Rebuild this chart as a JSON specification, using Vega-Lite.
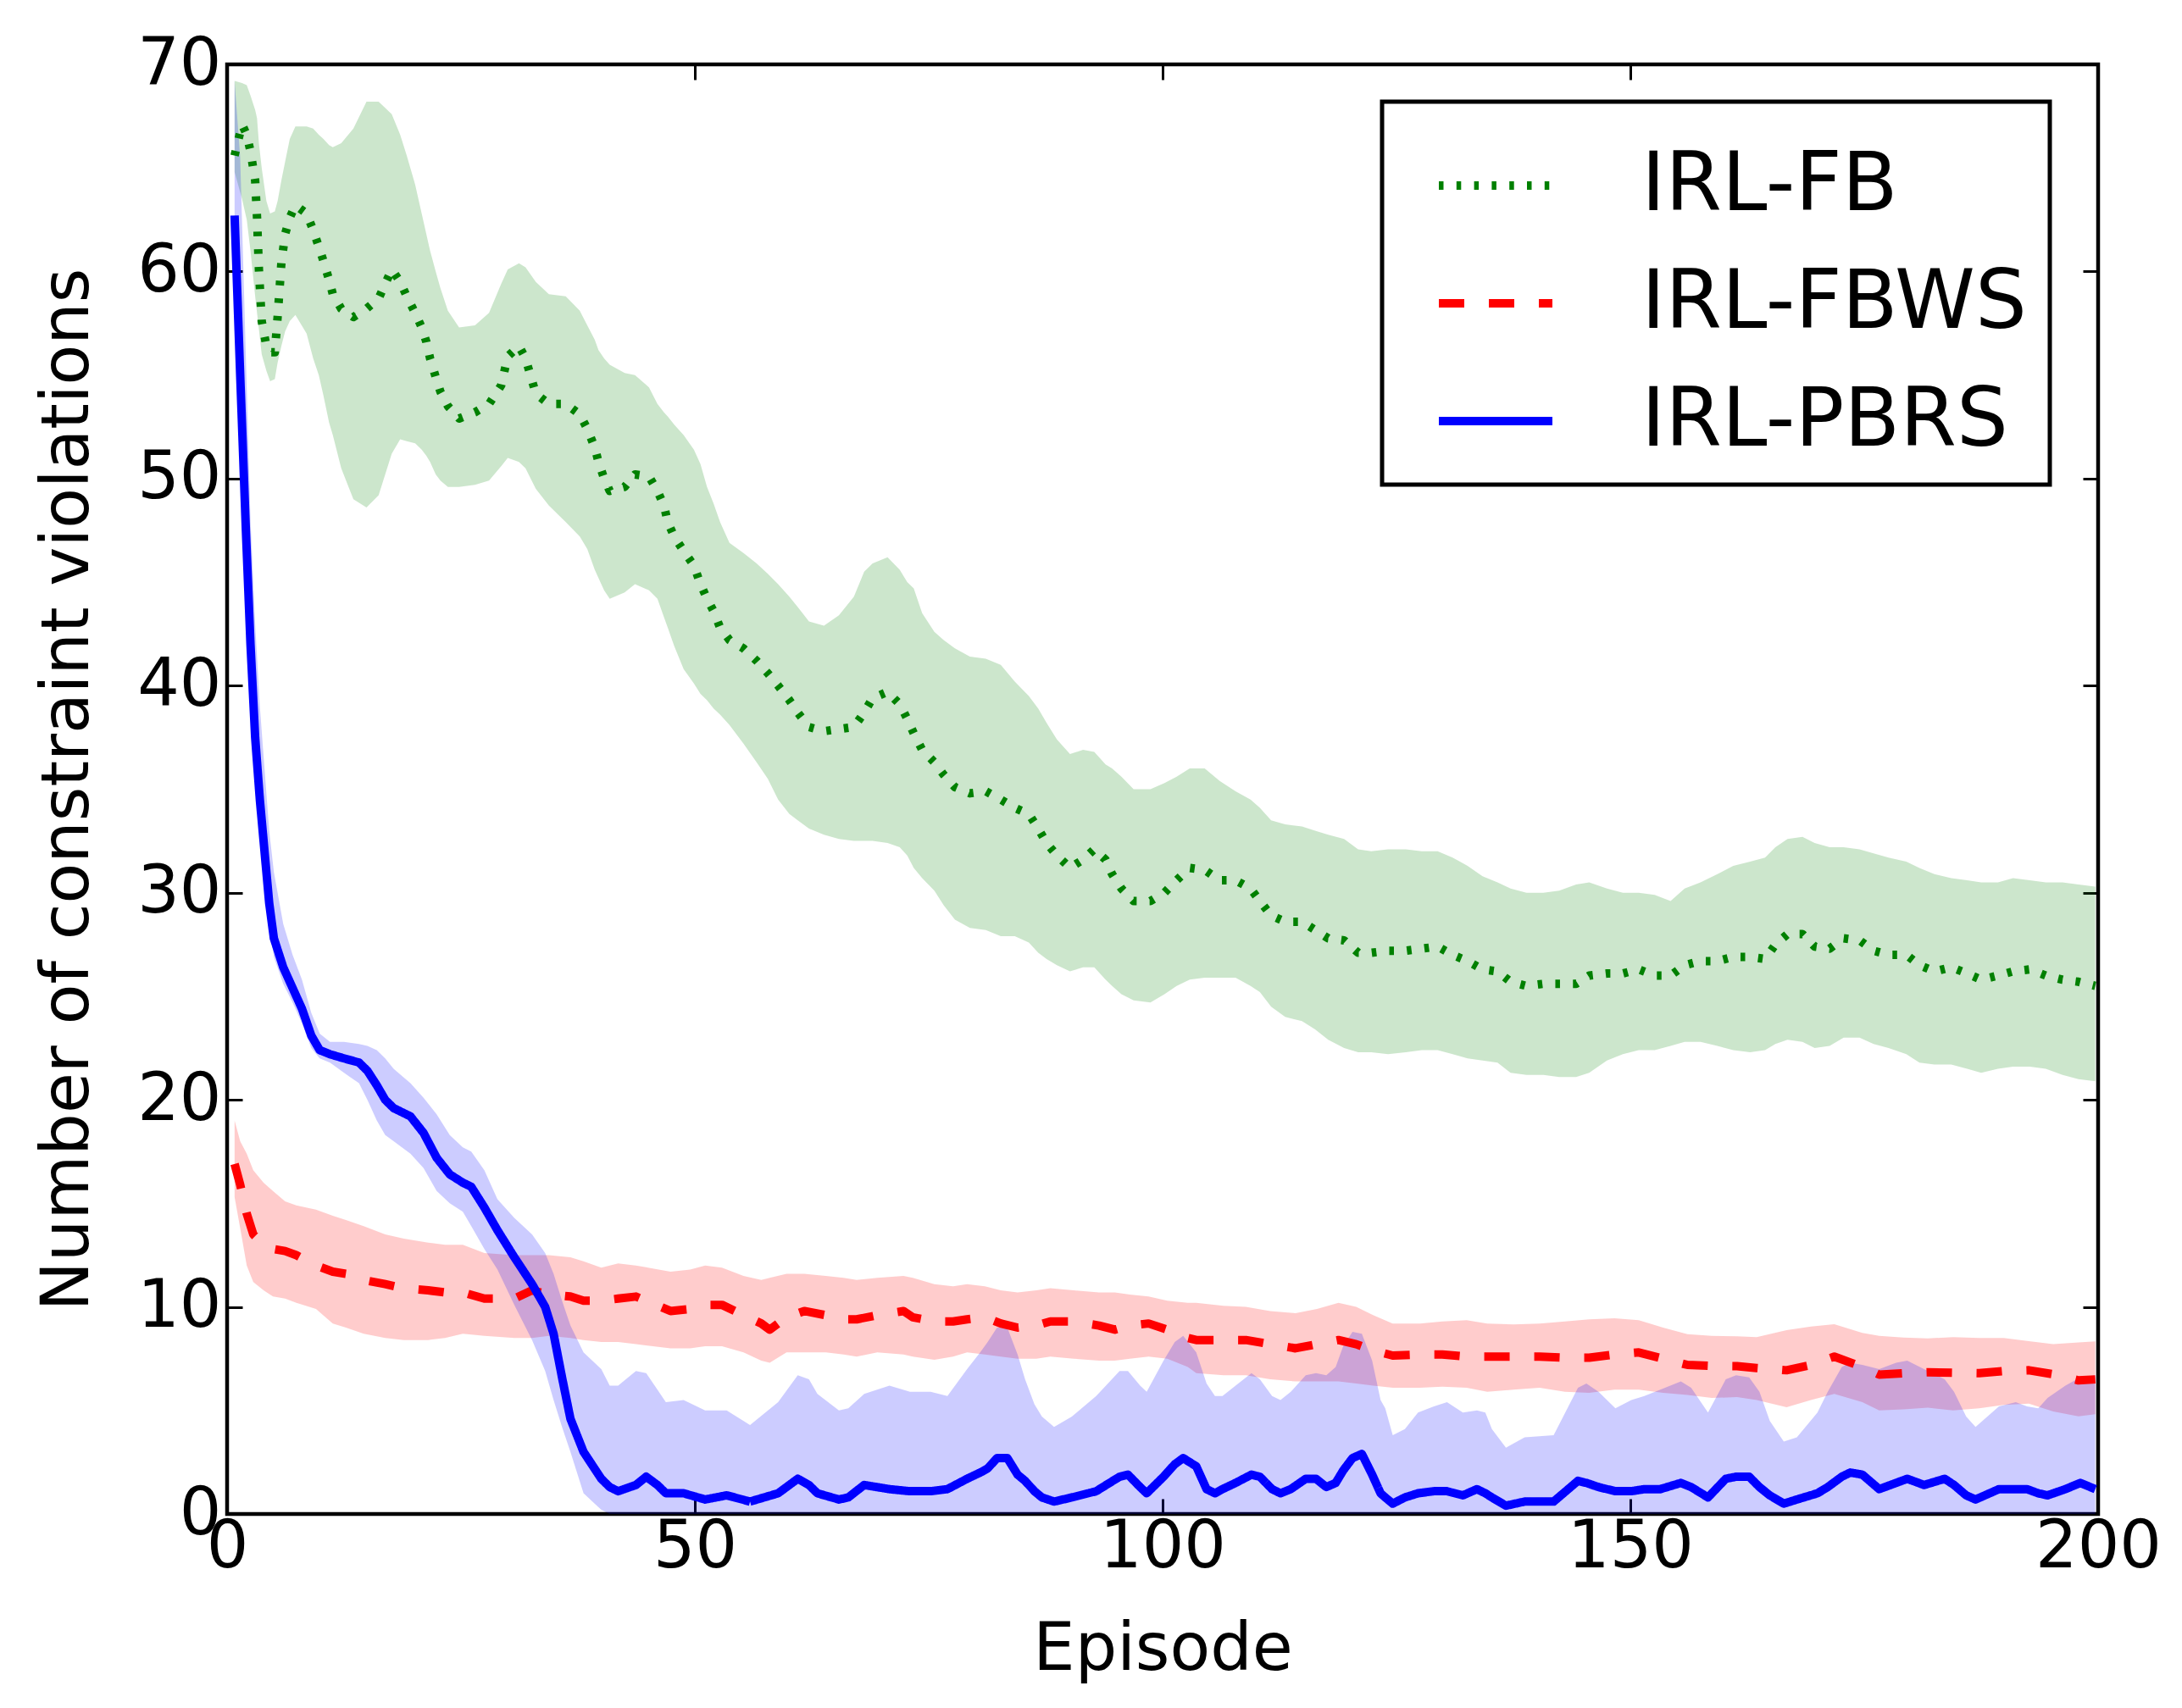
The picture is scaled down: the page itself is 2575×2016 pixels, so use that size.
{
  "$schema": "https://vega.github.io/schema/vega-lite/v6.json",
  "width": 2208,
  "height": 1711,
  "autosize": {"type": "none"},
  "padding": {"left": 268, "top": 76, "right": 99, "bottom": 229},
  "background": "white",
  "config": {
    "font": "DejaVu Sans",
    "view": {"stroke": "black", "strokeWidth": 4.5},
    "axis": {
      "grid": false,
      "domain": false,
      "tickColor": "black",
      "tickWidth": 3,
      "tickSize": -18,
      "labelFont": "DejaVu Sans",
      "labelFontSize": 78,
      "labelColor": "black",
      "titleFont": "DejaVu Sans",
      "titleFontSize": 78,
      "titleFontWeight": "normal",
      "titleColor": "black"
    },
    "legend": {
      "labelFont": "DejaVu Sans",
      "labelFontSize": 96,
      "labelColor": "black",
      "labelOffset": 100,
      "labelLimit": 1000,
      "symbolType": "stroke",
      "symbolSize": 17956,
      "symbolStrokeWidth": 10,
      "symbolOffset": 35,
      "rowPadding": 19,
      "padding": 27,
      "strokeColor": "black",
      "fillColor": "white",
      "cornerRadius": 0
    }
  },
  "data": {
    "values": [
      {"s": "IRL-FB", "ep": 0.8, "m": 65.6, "lo": 64.8, "hi": 69.2},
      {"s": "IRL-FB", "ep": 1.6, "m": 67.1, "lo": 63.5, "hi": 69.1},
      {"s": "IRL-FB", "ep": 2.1, "m": 66.6, "lo": 62.5, "hi": 69.0},
      {"s": "IRL-FB", "ep": 2.5, "m": 65.8, "lo": 61.0, "hi": 68.5},
      {"s": "IRL-FB", "ep": 3.0, "m": 64.4, "lo": 58.8, "hi": 67.8},
      {"s": "IRL-FB", "ep": 3.2, "m": 62.6, "lo": 58.0, "hi": 67.4},
      {"s": "IRL-FB", "ep": 3.4, "m": 60.1, "lo": 57.2, "hi": 66.2},
      {"s": "IRL-FB", "ep": 3.7, "m": 57.6, "lo": 56.0, "hi": 65.0},
      {"s": "IRL-FB", "ep": 4.2, "m": 56.4, "lo": 55.2, "hi": 63.4},
      {"s": "IRL-FB", "ep": 4.6, "m": 56.1, "lo": 54.7, "hi": 62.8},
      {"s": "IRL-FB", "ep": 5.1, "m": 56.1, "lo": 54.8, "hi": 62.9},
      {"s": "IRL-FB", "ep": 5.4, "m": 57.8, "lo": 55.6, "hi": 63.4},
      {"s": "IRL-FB", "ep": 5.8, "m": 60.4, "lo": 56.4, "hi": 64.4},
      {"s": "IRL-FB", "ep": 6.2, "m": 61.8, "lo": 57.1, "hi": 65.3},
      {"s": "IRL-FB", "ep": 6.7, "m": 62.6, "lo": 57.6, "hi": 66.4},
      {"s": "IRL-FB", "ep": 7.3, "m": 63.2, "lo": 57.9, "hi": 67.0},
      {"s": "IRL-FB", "ep": 8.5, "m": 62.8, "lo": 57.0, "hi": 67.0},
      {"s": "IRL-FB", "ep": 9.2, "m": 62.0, "lo": 55.8, "hi": 66.9},
      {"s": "IRL-FB", "ep": 9.8, "m": 61.2, "lo": 55.0, "hi": 66.6},
      {"s": "IRL-FB", "ep": 10.3, "m": 60.5, "lo": 54.0, "hi": 66.4},
      {"s": "IRL-FB", "ep": 10.9, "m": 59.6, "lo": 52.7, "hi": 66.1},
      {"s": "IRL-FB", "ep": 11.3, "m": 58.9, "lo": 52.1, "hi": 66.0},
      {"s": "IRL-FB", "ep": 12.2, "m": 58.2, "lo": 50.5, "hi": 66.2},
      {"s": "IRL-FB", "ep": 13.5, "m": 57.8, "lo": 49.0, "hi": 66.9},
      {"s": "IRL-FB", "ep": 14.9, "m": 58.2, "lo": 48.6, "hi": 68.2},
      {"s": "IRL-FB", "ep": 16.2, "m": 58.7, "lo": 49.2, "hi": 68.2},
      {"s": "IRL-FB", "ep": 17.6, "m": 60.1, "lo": 51.2, "hi": 67.6},
      {"s": "IRL-FB", "ep": 18.5, "m": 59.5, "lo": 51.9, "hi": 66.6},
      {"s": "IRL-FB", "ep": 19.2, "m": 58.8, "lo": 51.8, "hi": 65.6},
      {"s": "IRL-FB", "ep": 20.1, "m": 58.0, "lo": 51.7, "hi": 64.2},
      {"s": "IRL-FB", "ep": 20.8, "m": 57.3, "lo": 51.4, "hi": 62.8},
      {"s": "IRL-FB", "ep": 21.3, "m": 56.6, "lo": 51.1, "hi": 61.8},
      {"s": "IRL-FB", "ep": 21.7, "m": 55.8, "lo": 50.8, "hi": 61.0},
      {"s": "IRL-FB", "ep": 22.3, "m": 54.9, "lo": 50.2, "hi": 60.0},
      {"s": "IRL-FB", "ep": 22.8, "m": 54.2, "lo": 49.9, "hi": 59.2},
      {"s": "IRL-FB", "ep": 23.6, "m": 53.5, "lo": 49.6, "hi": 58.1},
      {"s": "IRL-FB", "ep": 24.8, "m": 52.9, "lo": 49.6, "hi": 57.3},
      {"s": "IRL-FB", "ep": 26.5, "m": 53.2, "lo": 49.7, "hi": 57.4},
      {"s": "IRL-FB", "ep": 28.0, "m": 53.6, "lo": 49.9, "hi": 58.0},
      {"s": "IRL-FB", "ep": 29.3, "m": 54.5, "lo": 50.6, "hi": 59.4},
      {"s": "IRL-FB", "ep": 30.0, "m": 55.9, "lo": 51.0, "hi": 60.1},
      {"s": "IRL-FB", "ep": 31.2, "m": 56.4, "lo": 50.8, "hi": 60.4},
      {"s": "IRL-FB", "ep": 31.9, "m": 55.8, "lo": 50.5, "hi": 60.2},
      {"s": "IRL-FB", "ep": 33.0, "m": 54.1, "lo": 49.5, "hi": 59.5},
      {"s": "IRL-FB", "ep": 34.4, "m": 53.6, "lo": 48.7, "hi": 58.9},
      {"s": "IRL-FB", "ep": 36.2, "m": 53.6, "lo": 47.9, "hi": 58.8},
      {"s": "IRL-FB", "ep": 37.7, "m": 53.1, "lo": 47.2, "hi": 58.1},
      {"s": "IRL-FB", "ep": 38.5, "m": 52.4, "lo": 46.6, "hi": 57.4},
      {"s": "IRL-FB", "ep": 39.3, "m": 51.5, "lo": 45.6, "hi": 56.7},
      {"s": "IRL-FB", "ep": 39.7, "m": 50.8, "lo": 45.2, "hi": 56.2},
      {"s": "IRL-FB", "ep": 40.3, "m": 50.0, "lo": 44.6, "hi": 55.8},
      {"s": "IRL-FB", "ep": 40.9, "m": 49.4, "lo": 44.2, "hi": 55.5},
      {"s": "IRL-FB", "ep": 42.5, "m": 49.6, "lo": 44.5, "hi": 55.1},
      {"s": "IRL-FB", "ep": 43.6, "m": 50.2, "lo": 44.9, "hi": 55.0},
      {"s": "IRL-FB", "ep": 45.1, "m": 50.1, "lo": 44.6, "hi": 54.4},
      {"s": "IRL-FB", "ep": 46.0, "m": 49.4, "lo": 44.2, "hi": 53.6},
      {"s": "IRL-FB", "ep": 46.7, "m": 48.7, "lo": 43.3, "hi": 53.2},
      {"s": "IRL-FB", "ep": 47.1, "m": 47.9, "lo": 42.8, "hi": 53.0},
      {"s": "IRL-FB", "ep": 47.8, "m": 47.2, "lo": 41.9, "hi": 52.6},
      {"s": "IRL-FB", "ep": 48.8, "m": 46.5, "lo": 40.8, "hi": 52.1},
      {"s": "IRL-FB", "ep": 49.9, "m": 45.8, "lo": 40.1, "hi": 51.4},
      {"s": "IRL-FB", "ep": 50.6, "m": 44.9, "lo": 39.6, "hi": 50.7},
      {"s": "IRL-FB", "ep": 51.3, "m": 44.2, "lo": 39.3, "hi": 49.6},
      {"s": "IRL-FB", "ep": 52.0, "m": 43.6, "lo": 38.9, "hi": 48.8},
      {"s": "IRL-FB", "ep": 52.7, "m": 42.8, "lo": 38.6, "hi": 47.9},
      {"s": "IRL-FB", "ep": 53.7, "m": 42.2, "lo": 38.1, "hi": 46.9},
      {"s": "IRL-FB", "ep": 55.2, "m": 41.8, "lo": 37.2, "hi": 46.4},
      {"s": "IRL-FB", "ep": 56.6, "m": 41.2, "lo": 36.3, "hi": 45.9},
      {"s": "IRL-FB", "ep": 57.8, "m": 40.6, "lo": 35.5, "hi": 45.4},
      {"s": "IRL-FB", "ep": 58.9, "m": 40.0, "lo": 34.5, "hi": 44.9},
      {"s": "IRL-FB", "ep": 60.1, "m": 39.3, "lo": 33.8, "hi": 44.3},
      {"s": "IRL-FB", "ep": 61.0, "m": 38.7, "lo": 33.5, "hi": 43.8},
      {"s": "IRL-FB", "ep": 62.2, "m": 38.0, "lo": 33.1, "hi": 43.1},
      {"s": "IRL-FB", "ep": 63.8, "m": 37.8, "lo": 32.8, "hi": 42.9},
      {"s": "IRL-FB", "ep": 65.4, "m": 37.9, "lo": 32.6, "hi": 43.4},
      {"s": "IRL-FB", "ep": 67.0, "m": 38.0, "lo": 32.5, "hi": 44.3},
      {"s": "IRL-FB", "ep": 68.1, "m": 38.7, "lo": 32.5, "hi": 45.5},
      {"s": "IRL-FB", "ep": 69.0, "m": 39.4, "lo": 32.5, "hi": 45.9},
      {"s": "IRL-FB", "ep": 70.6, "m": 39.7, "lo": 32.4, "hi": 46.2},
      {"s": "IRL-FB", "ep": 71.9, "m": 39.1, "lo": 32.2, "hi": 45.6},
      {"s": "IRL-FB", "ep": 72.7, "m": 38.4, "lo": 31.8, "hi": 45.0},
      {"s": "IRL-FB", "ep": 73.4, "m": 37.7, "lo": 31.2, "hi": 44.7},
      {"s": "IRL-FB", "ep": 74.3, "m": 36.9, "lo": 30.7, "hi": 43.5},
      {"s": "IRL-FB", "ep": 75.6, "m": 36.3, "lo": 30.1, "hi": 42.6},
      {"s": "IRL-FB", "ep": 76.6, "m": 35.7, "lo": 29.4, "hi": 42.2},
      {"s": "IRL-FB", "ep": 77.8, "m": 35.1, "lo": 28.7, "hi": 41.8},
      {"s": "IRL-FB", "ep": 79.4, "m": 34.8, "lo": 28.3, "hi": 41.4},
      {"s": "IRL-FB", "ep": 81.1, "m": 34.9, "lo": 28.2, "hi": 41.3},
      {"s": "IRL-FB", "ep": 82.7, "m": 34.5, "lo": 27.9, "hi": 41.0},
      {"s": "IRL-FB", "ep": 84.2, "m": 34.1, "lo": 27.9, "hi": 40.2},
      {"s": "IRL-FB", "ep": 85.7, "m": 33.8, "lo": 27.6, "hi": 39.5},
      {"s": "IRL-FB", "ep": 86.7, "m": 33.1, "lo": 27.1, "hi": 38.9},
      {"s": "IRL-FB", "ep": 87.6, "m": 32.4, "lo": 26.8, "hi": 38.2},
      {"s": "IRL-FB", "ep": 88.7, "m": 31.8, "lo": 26.5, "hi": 37.4},
      {"s": "IRL-FB", "ep": 90.1, "m": 31.2, "lo": 26.2, "hi": 36.7},
      {"s": "IRL-FB", "ep": 91.5, "m": 31.6, "lo": 26.4, "hi": 36.9},
      {"s": "IRL-FB", "ep": 92.7, "m": 32.1, "lo": 26.4, "hi": 36.8},
      {"s": "IRL-FB", "ep": 93.9, "m": 31.6, "lo": 25.8, "hi": 36.2},
      {"s": "IRL-FB", "ep": 94.6, "m": 30.9, "lo": 25.5, "hi": 36.0},
      {"s": "IRL-FB", "ep": 95.6, "m": 30.2, "lo": 25.1, "hi": 35.6},
      {"s": "IRL-FB", "ep": 96.9, "m": 29.6, "lo": 24.8, "hi": 35.0},
      {"s": "IRL-FB", "ep": 98.7, "m": 29.6, "lo": 24.7, "hi": 35.0},
      {"s": "IRL-FB", "ep": 100.2, "m": 30.0, "lo": 25.1, "hi": 35.3},
      {"s": "IRL-FB", "ep": 101.5, "m": 30.6, "lo": 25.5, "hi": 35.6},
      {"s": "IRL-FB", "ep": 102.9, "m": 31.2, "lo": 25.8, "hi": 36.0},
      {"s": "IRL-FB", "ep": 104.5, "m": 31.1, "lo": 25.9, "hi": 36.0},
      {"s": "IRL-FB", "ep": 106.1, "m": 30.6, "lo": 25.9, "hi": 35.4},
      {"s": "IRL-FB", "ep": 107.8, "m": 30.6, "lo": 25.9, "hi": 34.9},
      {"s": "IRL-FB", "ep": 109.4, "m": 30.2, "lo": 25.5, "hi": 34.5},
      {"s": "IRL-FB", "ep": 110.4, "m": 29.6, "lo": 25.2, "hi": 34.1},
      {"s": "IRL-FB", "ep": 111.6, "m": 28.9, "lo": 24.5, "hi": 33.5},
      {"s": "IRL-FB", "ep": 113.1, "m": 28.6, "lo": 24.0, "hi": 33.3},
      {"s": "IRL-FB", "ep": 114.9, "m": 28.6, "lo": 23.8, "hi": 33.2},
      {"s": "IRL-FB", "ep": 116.3, "m": 28.2, "lo": 23.4, "hi": 33.0},
      {"s": "IRL-FB", "ep": 117.7, "m": 27.8, "lo": 22.9, "hi": 32.8},
      {"s": "IRL-FB", "ep": 119.4, "m": 27.7, "lo": 22.5, "hi": 32.6},
      {"s": "IRL-FB", "ep": 120.9, "m": 27.1, "lo": 22.3, "hi": 32.1},
      {"s": "IRL-FB", "ep": 122.3, "m": 27.1, "lo": 22.3, "hi": 32.0},
      {"s": "IRL-FB", "ep": 124.1, "m": 27.2, "lo": 22.2, "hi": 32.1},
      {"s": "IRL-FB", "ep": 126.0, "m": 27.2, "lo": 22.3, "hi": 32.1},
      {"s": "IRL-FB", "ep": 127.7, "m": 27.3, "lo": 22.4, "hi": 32.0},
      {"s": "IRL-FB", "ep": 129.4, "m": 27.4, "lo": 22.4, "hi": 32.0},
      {"s": "IRL-FB", "ep": 131.0, "m": 27.0, "lo": 22.2, "hi": 31.7},
      {"s": "IRL-FB", "ep": 132.6, "m": 26.7, "lo": 22.0, "hi": 31.3},
      {"s": "IRL-FB", "ep": 134.2, "m": 26.3, "lo": 21.9, "hi": 30.8},
      {"s": "IRL-FB", "ep": 135.8, "m": 26.2, "lo": 21.8, "hi": 30.5},
      {"s": "IRL-FB", "ep": 137.2, "m": 25.7, "lo": 21.3, "hi": 30.2},
      {"s": "IRL-FB", "ep": 138.9, "m": 25.5, "lo": 21.2, "hi": 30.0},
      {"s": "IRL-FB", "ep": 140.7, "m": 25.6, "lo": 21.2, "hi": 30.0},
      {"s": "IRL-FB", "ep": 142.4, "m": 25.6, "lo": 21.1, "hi": 30.1},
      {"s": "IRL-FB", "ep": 144.2, "m": 25.6, "lo": 21.1, "hi": 30.4},
      {"s": "IRL-FB", "ep": 145.6, "m": 26.0, "lo": 21.3, "hi": 30.5},
      {"s": "IRL-FB", "ep": 147.5, "m": 26.1, "lo": 21.9, "hi": 30.2},
      {"s": "IRL-FB", "ep": 149.2, "m": 26.1, "lo": 22.2, "hi": 30.0},
      {"s": "IRL-FB", "ep": 150.9, "m": 26.3, "lo": 22.4, "hi": 30.0},
      {"s": "IRL-FB", "ep": 152.6, "m": 26.0, "lo": 22.4, "hi": 29.9},
      {"s": "IRL-FB", "ep": 154.3, "m": 26.0, "lo": 22.6, "hi": 29.6},
      {"s": "IRL-FB", "ep": 155.8, "m": 26.5, "lo": 22.8, "hi": 30.2},
      {"s": "IRL-FB", "ep": 157.5, "m": 26.7, "lo": 22.8, "hi": 30.5},
      {"s": "IRL-FB", "ep": 159.3, "m": 26.7, "lo": 22.6, "hi": 30.9},
      {"s": "IRL-FB", "ep": 161.0, "m": 26.9, "lo": 22.4, "hi": 31.3},
      {"s": "IRL-FB", "ep": 162.8, "m": 26.9, "lo": 22.3, "hi": 31.5},
      {"s": "IRL-FB", "ep": 164.4, "m": 26.8, "lo": 22.4, "hi": 31.7},
      {"s": "IRL-FB", "ep": 165.5, "m": 27.5, "lo": 22.7, "hi": 32.2},
      {"s": "IRL-FB", "ep": 166.8, "m": 28.0, "lo": 22.9, "hi": 32.6},
      {"s": "IRL-FB", "ep": 168.4, "m": 28.0, "lo": 22.8, "hi": 32.7},
      {"s": "IRL-FB", "ep": 169.7, "m": 27.4, "lo": 22.5, "hi": 32.4},
      {"s": "IRL-FB", "ep": 171.3, "m": 27.3, "lo": 22.6, "hi": 32.2},
      {"s": "IRL-FB", "ep": 172.8, "m": 27.8, "lo": 23.0, "hi": 32.2},
      {"s": "IRL-FB", "ep": 174.5, "m": 27.7, "lo": 23.0, "hi": 32.1},
      {"s": "IRL-FB", "ep": 176.0, "m": 27.2, "lo": 22.7, "hi": 31.9},
      {"s": "IRL-FB", "ep": 177.6, "m": 27.0, "lo": 22.5, "hi": 31.7},
      {"s": "IRL-FB", "ep": 179.5, "m": 27.0, "lo": 22.2, "hi": 31.5},
      {"s": "IRL-FB", "ep": 180.9, "m": 26.5, "lo": 21.8, "hi": 31.2},
      {"s": "IRL-FB", "ep": 182.5, "m": 26.2, "lo": 21.7, "hi": 30.9},
      {"s": "IRL-FB", "ep": 184.3, "m": 26.4, "lo": 21.7, "hi": 30.7},
      {"s": "IRL-FB", "ep": 186.0, "m": 26.1, "lo": 21.5, "hi": 30.6},
      {"s": "IRL-FB", "ep": 187.5, "m": 25.8, "lo": 21.3, "hi": 30.5},
      {"s": "IRL-FB", "ep": 189.3, "m": 26.0, "lo": 21.5, "hi": 30.5},
      {"s": "IRL-FB", "ep": 190.9, "m": 26.2, "lo": 21.6, "hi": 30.7},
      {"s": "IRL-FB", "ep": 192.7, "m": 26.3, "lo": 21.6, "hi": 30.6},
      {"s": "IRL-FB", "ep": 194.4, "m": 26.0, "lo": 21.5, "hi": 30.5},
      {"s": "IRL-FB", "ep": 196.2, "m": 25.8, "lo": 21.2, "hi": 30.5},
      {"s": "IRL-FB", "ep": 197.9, "m": 25.7, "lo": 21.0, "hi": 30.4},
      {"s": "IRL-FB", "ep": 199.7, "m": 25.5, "lo": 20.9, "hi": 30.3},

      {"s": "IRL-FBWS", "ep": 0.8, "m": 16.9, "lo": 15.3, "hi": 19.0},
      {"s": "IRL-FBWS", "ep": 1.4, "m": 15.9, "lo": 13.8, "hi": 18.0},
      {"s": "IRL-FBWS", "ep": 2.1, "m": 14.5, "lo": 12.0, "hi": 17.4},
      {"s": "IRL-FBWS", "ep": 2.8, "m": 13.5, "lo": 11.2, "hi": 16.6},
      {"s": "IRL-FBWS", "ep": 3.9, "m": 13.0, "lo": 10.8, "hi": 16.0},
      {"s": "IRL-FBWS", "ep": 4.9, "m": 12.8, "lo": 10.5, "hi": 15.6},
      {"s": "IRL-FBWS", "ep": 6.2, "m": 12.7, "lo": 10.4, "hi": 15.1},
      {"s": "IRL-FBWS", "ep": 7.4, "m": 12.5, "lo": 10.2, "hi": 14.9},
      {"s": "IRL-FBWS", "ep": 9.5, "m": 12.0, "lo": 9.9, "hi": 14.7},
      {"s": "IRL-FBWS", "ep": 11.3, "m": 11.7, "lo": 9.2, "hi": 14.4},
      {"s": "IRL-FBWS", "ep": 12.7, "m": 11.6, "lo": 9.0, "hi": 14.2},
      {"s": "IRL-FBWS", "ep": 14.6, "m": 11.3, "lo": 8.7, "hi": 13.9},
      {"s": "IRL-FBWS", "ep": 16.9, "m": 11.1, "lo": 8.5, "hi": 13.5},
      {"s": "IRL-FBWS", "ep": 18.9, "m": 10.9, "lo": 8.4, "hi": 13.3},
      {"s": "IRL-FBWS", "ep": 21.5, "m": 10.8, "lo": 8.4, "hi": 13.1},
      {"s": "IRL-FBWS", "ep": 23.3, "m": 10.7, "lo": 8.5, "hi": 13.0},
      {"s": "IRL-FBWS", "ep": 25.2, "m": 10.7, "lo": 8.7, "hi": 13.0},
      {"s": "IRL-FBWS", "ep": 27.5, "m": 10.4, "lo": 8.6, "hi": 12.6},
      {"s": "IRL-FBWS", "ep": 30.7, "m": 10.4, "lo": 8.5, "hi": 12.5},
      {"s": "IRL-FBWS", "ep": 32.6, "m": 10.8, "lo": 8.5, "hi": 12.5},
      {"s": "IRL-FBWS", "ep": 34.4, "m": 10.6, "lo": 8.6, "hi": 12.5},
      {"s": "IRL-FBWS", "ep": 36.7, "m": 10.5, "lo": 8.5, "hi": 12.4},
      {"s": "IRL-FBWS", "ep": 38.1, "m": 10.3, "lo": 8.4, "hi": 12.2},
      {"s": "IRL-FBWS", "ep": 40.0, "m": 10.3, "lo": 8.3, "hi": 11.9},
      {"s": "IRL-FBWS", "ep": 41.8, "m": 10.4, "lo": 8.3, "hi": 12.1},
      {"s": "IRL-FBWS", "ep": 43.7, "m": 10.5, "lo": 8.2, "hi": 12.0},
      {"s": "IRL-FBWS", "ep": 47.4, "m": 9.8, "lo": 8.0, "hi": 11.7},
      {"s": "IRL-FBWS", "ep": 49.5, "m": 9.9, "lo": 8.0, "hi": 11.8},
      {"s": "IRL-FBWS", "ep": 51.1, "m": 10.1, "lo": 8.1, "hi": 12.0},
      {"s": "IRL-FBWS", "ep": 52.9, "m": 10.1, "lo": 8.1, "hi": 11.9},
      {"s": "IRL-FBWS", "ep": 55.2, "m": 9.6, "lo": 7.8, "hi": 11.5},
      {"s": "IRL-FBWS", "ep": 57.1, "m": 9.2, "lo": 7.4, "hi": 11.3},
      {"s": "IRL-FBWS", "ep": 58.0, "m": 8.9, "lo": 7.3, "hi": 11.4},
      {"s": "IRL-FBWS", "ep": 59.8, "m": 9.5, "lo": 7.8, "hi": 11.6},
      {"s": "IRL-FBWS", "ep": 61.7, "m": 9.8, "lo": 7.8, "hi": 11.6},
      {"s": "IRL-FBWS", "ep": 64.0, "m": 9.6, "lo": 7.8, "hi": 11.5},
      {"s": "IRL-FBWS", "ep": 65.9, "m": 9.4, "lo": 7.7, "hi": 11.4},
      {"s": "IRL-FBWS", "ep": 67.3, "m": 9.4, "lo": 7.6, "hi": 11.3},
      {"s": "IRL-FBWS", "ep": 69.5, "m": 9.6, "lo": 7.8, "hi": 11.4},
      {"s": "IRL-FBWS", "ep": 72.3, "m": 9.8, "lo": 7.7, "hi": 11.5},
      {"s": "IRL-FBWS", "ep": 73.3, "m": 9.5, "lo": 7.6, "hi": 11.4},
      {"s": "IRL-FBWS", "ep": 75.6, "m": 9.3, "lo": 7.45, "hi": 11.1},
      {"s": "IRL-FBWS", "ep": 77.6, "m": 9.3, "lo": 7.6, "hi": 11.0},
      {"s": "IRL-FBWS", "ep": 79.1, "m": 9.4, "lo": 7.8, "hi": 11.1},
      {"s": "IRL-FBWS", "ep": 81.0, "m": 9.5, "lo": 7.7, "hi": 11.0},
      {"s": "IRL-FBWS", "ep": 82.7, "m": 9.2, "lo": 7.6, "hi": 10.8},
      {"s": "IRL-FBWS", "ep": 84.5, "m": 9.0, "lo": 7.5, "hi": 10.7},
      {"s": "IRL-FBWS", "ep": 86.5, "m": 9.1, "lo": 7.5, "hi": 10.8},
      {"s": "IRL-FBWS", "ep": 88.0, "m": 9.3, "lo": 7.6, "hi": 10.9},
      {"s": "IRL-FBWS", "ep": 90.5, "m": 9.3, "lo": 7.5, "hi": 10.8},
      {"s": "IRL-FBWS", "ep": 93.2, "m": 9.1, "lo": 7.4, "hi": 10.7},
      {"s": "IRL-FBWS", "ep": 94.9, "m": 8.9, "lo": 7.4, "hi": 10.7},
      {"s": "IRL-FBWS", "ep": 96.5, "m": 9.1, "lo": 7.5, "hi": 10.6},
      {"s": "IRL-FBWS", "ep": 98.5, "m": 9.2, "lo": 7.6, "hi": 10.5},
      {"s": "IRL-FBWS", "ep": 100.5, "m": 8.9, "lo": 7.5, "hi": 10.3},
      {"s": "IRL-FBWS", "ep": 102.7, "m": 8.5, "lo": 7.1, "hi": 10.2},
      {"s": "IRL-FBWS", "ep": 103.6, "m": 8.4, "lo": 6.8, "hi": 10.2},
      {"s": "IRL-FBWS", "ep": 106.5, "m": 8.4, "lo": 6.7, "hi": 10.05},
      {"s": "IRL-FBWS", "ep": 108.9, "m": 8.4, "lo": 6.7, "hi": 10.0},
      {"s": "IRL-FBWS", "ep": 111.5, "m": 8.2, "lo": 6.5, "hi": 9.8},
      {"s": "IRL-FBWS", "ep": 114.2, "m": 8.0, "lo": 6.4, "hi": 9.7},
      {"s": "IRL-FBWS", "ep": 116.5, "m": 8.2, "lo": 6.4, "hi": 9.9},
      {"s": "IRL-FBWS", "ep": 118.8, "m": 8.4, "lo": 6.4, "hi": 10.2},
      {"s": "IRL-FBWS", "ep": 120.7, "m": 8.2, "lo": 6.3, "hi": 10.0},
      {"s": "IRL-FBWS", "ep": 122.5, "m": 7.9, "lo": 6.2, "hi": 9.6},
      {"s": "IRL-FBWS", "ep": 124.6, "m": 7.65, "lo": 6.1, "hi": 9.2},
      {"s": "IRL-FBWS", "ep": 127.5, "m": 7.7, "lo": 6.1, "hi": 9.2},
      {"s": "IRL-FBWS", "ep": 129.9, "m": 7.7, "lo": 6.15, "hi": 9.3},
      {"s": "IRL-FBWS", "ep": 132.5, "m": 7.6, "lo": 6.1, "hi": 9.36},
      {"s": "IRL-FBWS", "ep": 134.7, "m": 7.6, "lo": 5.9, "hi": 9.2},
      {"s": "IRL-FBWS", "ep": 137.5, "m": 7.6, "lo": 6.0, "hi": 9.15},
      {"s": "IRL-FBWS", "ep": 140.3, "m": 7.6, "lo": 6.1, "hi": 9.2},
      {"s": "IRL-FBWS", "ep": 143.0, "m": 7.55, "lo": 5.9, "hi": 9.3},
      {"s": "IRL-FBWS", "ep": 145.6, "m": 7.55, "lo": 5.85, "hi": 9.4},
      {"s": "IRL-FBWS", "ep": 148.3, "m": 7.7, "lo": 6.0, "hi": 9.45},
      {"s": "IRL-FBWS", "ep": 150.9, "m": 7.8, "lo": 6.0, "hi": 9.36},
      {"s": "IRL-FBWS", "ep": 153.5, "m": 7.5, "lo": 5.85, "hi": 9.0},
      {"s": "IRL-FBWS", "ep": 156.1, "m": 7.2, "lo": 5.75, "hi": 8.68},
      {"s": "IRL-FBWS", "ep": 158.7, "m": 7.15, "lo": 5.6, "hi": 8.6},
      {"s": "IRL-FBWS", "ep": 161.4, "m": 7.14, "lo": 5.65, "hi": 8.58},
      {"s": "IRL-FBWS", "ep": 163.5, "m": 7.05, "lo": 5.5, "hi": 8.54},
      {"s": "IRL-FBWS", "ep": 166.7, "m": 6.94, "lo": 5.15, "hi": 8.88},
      {"s": "IRL-FBWS", "ep": 169.3, "m": 7.2, "lo": 5.5, "hi": 9.05},
      {"s": "IRL-FBWS", "ep": 171.8, "m": 7.6, "lo": 5.8, "hi": 9.16},
      {"s": "IRL-FBWS", "ep": 174.8, "m": 7.1, "lo": 5.4, "hi": 8.75},
      {"s": "IRL-FBWS", "ep": 176.6, "m": 6.73, "lo": 5.0, "hi": 8.6},
      {"s": "IRL-FBWS", "ep": 179.2, "m": 6.8, "lo": 5.05, "hi": 8.52},
      {"s": "IRL-FBWS", "ep": 181.8, "m": 6.84, "lo": 5.13, "hi": 8.48},
      {"s": "IRL-FBWS", "ep": 184.5, "m": 6.82, "lo": 5.0, "hi": 8.54},
      {"s": "IRL-FBWS", "ep": 187.3, "m": 6.8, "lo": 5.1, "hi": 8.5},
      {"s": "IRL-FBWS", "ep": 189.9, "m": 6.9, "lo": 5.27, "hi": 8.5},
      {"s": "IRL-FBWS", "ep": 192.6, "m": 6.94, "lo": 5.33, "hi": 8.35},
      {"s": "IRL-FBWS", "ep": 195.2, "m": 6.75, "lo": 4.95, "hi": 8.2},
      {"s": "IRL-FBWS", "ep": 197.9, "m": 6.45, "lo": 4.72, "hi": 8.28},
      {"s": "IRL-FBWS", "ep": 199.7, "m": 6.5, "lo": 4.82, "hi": 8.34},

      {"s": "IRL-PBRS", "ep": 0.8, "m": 62.7, "lo": 60.5, "hi": 69.2},
      {"s": "IRL-PBRS", "ep": 1.4, "m": 55.0, "lo": 52.0, "hi": 65.5},
      {"s": "IRL-PBRS", "ep": 2.0, "m": 47.6, "lo": 45.5, "hi": 56.0},
      {"s": "IRL-PBRS", "ep": 2.5, "m": 42.0, "lo": 40.0, "hi": 48.0},
      {"s": "IRL-PBRS", "ep": 3.0, "m": 37.5, "lo": 35.8, "hi": 43.0},
      {"s": "IRL-PBRS", "ep": 3.5, "m": 34.5, "lo": 33.0, "hi": 39.0},
      {"s": "IRL-PBRS", "ep": 4.0, "m": 32.0, "lo": 30.6, "hi": 36.0},
      {"s": "IRL-PBRS", "ep": 4.5, "m": 29.5, "lo": 28.5, "hi": 33.0},
      {"s": "IRL-PBRS", "ep": 5.0, "m": 27.8, "lo": 26.9, "hi": 31.0},
      {"s": "IRL-PBRS", "ep": 6.0, "m": 26.4, "lo": 25.6, "hi": 28.5},
      {"s": "IRL-PBRS", "ep": 7.0, "m": 25.4, "lo": 24.7, "hi": 27.0},
      {"s": "IRL-PBRS", "ep": 8.0, "m": 24.4, "lo": 23.7, "hi": 25.8},
      {"s": "IRL-PBRS", "ep": 9.0, "m": 23.1, "lo": 22.5, "hi": 24.2},
      {"s": "IRL-PBRS", "ep": 9.9, "m": 22.4, "lo": 22.0, "hi": 23.2},
      {"s": "IRL-PBRS", "ep": 11.0, "m": 22.2, "lo": 21.8, "hi": 22.8},
      {"s": "IRL-PBRS", "ep": 12.5, "m": 22.0, "lo": 21.3, "hi": 22.8},
      {"s": "IRL-PBRS", "ep": 14.1, "m": 21.8, "lo": 20.8, "hi": 22.7},
      {"s": "IRL-PBRS", "ep": 15.0, "m": 21.4, "lo": 20.0, "hi": 22.6},
      {"s": "IRL-PBRS", "ep": 16.0, "m": 20.7, "lo": 19.0, "hi": 22.4},
      {"s": "IRL-PBRS", "ep": 16.9, "m": 20.0, "lo": 18.3, "hi": 22.0},
      {"s": "IRL-PBRS", "ep": 17.8, "m": 19.6, "lo": 18.0, "hi": 21.5},
      {"s": "IRL-PBRS", "ep": 19.6, "m": 19.2, "lo": 17.4, "hi": 20.8},
      {"s": "IRL-PBRS", "ep": 21.0, "m": 18.4, "lo": 16.7, "hi": 20.1},
      {"s": "IRL-PBRS", "ep": 22.4, "m": 17.2, "lo": 15.6, "hi": 19.3},
      {"s": "IRL-PBRS", "ep": 23.8, "m": 16.4, "lo": 15.0, "hi": 18.3},
      {"s": "IRL-PBRS", "ep": 25.2, "m": 16.0, "lo": 14.6, "hi": 17.7},
      {"s": "IRL-PBRS", "ep": 26.1, "m": 15.8, "lo": 13.9, "hi": 17.5},
      {"s": "IRL-PBRS", "ep": 27.5, "m": 14.8, "lo": 12.8, "hi": 16.6},
      {"s": "IRL-PBRS", "ep": 28.9, "m": 13.7, "lo": 11.8, "hi": 15.2},
      {"s": "IRL-PBRS", "ep": 30.7, "m": 12.4, "lo": 10.1, "hi": 14.3},
      {"s": "IRL-PBRS", "ep": 32.6, "m": 11.1, "lo": 8.4, "hi": 13.5},
      {"s": "IRL-PBRS", "ep": 34.0, "m": 10.0, "lo": 6.9, "hi": 12.6},
      {"s": "IRL-PBRS", "ep": 34.9, "m": 8.7, "lo": 5.5, "hi": 11.6},
      {"s": "IRL-PBRS", "ep": 35.8, "m": 6.6, "lo": 4.2, "hi": 10.3},
      {"s": "IRL-PBRS", "ep": 36.7, "m": 4.6, "lo": 3.0, "hi": 9.1},
      {"s": "IRL-PBRS", "ep": 38.1, "m": 3.0, "lo": 1.0, "hi": 7.8},
      {"s": "IRL-PBRS", "ep": 40.0, "m": 1.7, "lo": 0.2, "hi": 7.0},
      {"s": "IRL-PBRS", "ep": 40.9, "m": 1.3, "lo": 0, "hi": 6.2},
      {"s": "IRL-PBRS", "ep": 41.8, "m": 1.1, "lo": 0, "hi": 6.2},
      {"s": "IRL-PBRS", "ep": 43.7, "m": 1.4, "lo": 0, "hi": 6.9},
      {"s": "IRL-PBRS", "ep": 44.8, "m": 1.8, "lo": 0, "hi": 6.8},
      {"s": "IRL-PBRS", "ep": 46.0, "m": 1.4, "lo": 0, "hi": 6.0},
      {"s": "IRL-PBRS", "ep": 46.9, "m": 1.0, "lo": 0, "hi": 5.4},
      {"s": "IRL-PBRS", "ep": 48.8, "m": 1.0, "lo": 0, "hi": 5.5},
      {"s": "IRL-PBRS", "ep": 51.1, "m": 0.7, "lo": 0, "hi": 5.0},
      {"s": "IRL-PBRS", "ep": 53.4, "m": 0.9, "lo": 0, "hi": 5.0},
      {"s": "IRL-PBRS", "ep": 55.9, "m": 0.6, "lo": 0, "hi": 4.3},
      {"s": "IRL-PBRS", "ep": 58.9, "m": 1.0, "lo": 0, "hi": 5.4},
      {"s": "IRL-PBRS", "ep": 61.0, "m": 1.7, "lo": 0, "hi": 6.7},
      {"s": "IRL-PBRS", "ep": 62.2, "m": 1.4, "lo": 0, "hi": 6.5},
      {"s": "IRL-PBRS", "ep": 63.1, "m": 1.0, "lo": 0, "hi": 5.8},
      {"s": "IRL-PBRS", "ep": 65.4, "m": 0.7, "lo": 0, "hi": 5.0},
      {"s": "IRL-PBRS", "ep": 66.4, "m": 0.8, "lo": 0, "hi": 5.1},
      {"s": "IRL-PBRS", "ep": 68.1, "m": 1.4, "lo": 0, "hi": 5.8},
      {"s": "IRL-PBRS", "ep": 70.8, "m": 1.2, "lo": 0, "hi": 6.2},
      {"s": "IRL-PBRS", "ep": 73.0, "m": 1.1, "lo": 0, "hi": 5.9},
      {"s": "IRL-PBRS", "ep": 75.2, "m": 1.1, "lo": 0, "hi": 5.9},
      {"s": "IRL-PBRS", "ep": 77.0, "m": 1.2, "lo": 0, "hi": 5.7},
      {"s": "IRL-PBRS", "ep": 79.1, "m": 1.7, "lo": 0, "hi": 7.0},
      {"s": "IRL-PBRS", "ep": 80.5, "m": 2.0, "lo": 0, "hi": 7.8},
      {"s": "IRL-PBRS", "ep": 81.3, "m": 2.2, "lo": 0, "hi": 8.3},
      {"s": "IRL-PBRS", "ep": 82.3, "m": 2.7, "lo": 0, "hi": 9.0},
      {"s": "IRL-PBRS", "ep": 83.4, "m": 2.7, "lo": 0, "hi": 9.0},
      {"s": "IRL-PBRS", "ep": 84.5, "m": 1.9, "lo": 0, "hi": 7.7},
      {"s": "IRL-PBRS", "ep": 85.3, "m": 1.6, "lo": 0, "hi": 6.5},
      {"s": "IRL-PBRS", "ep": 86.3, "m": 1.1, "lo": 0, "hi": 5.3},
      {"s": "IRL-PBRS", "ep": 87.1, "m": 0.8, "lo": 0, "hi": 4.7},
      {"s": "IRL-PBRS", "ep": 88.4, "m": 0.6, "lo": 0, "hi": 4.2},
      {"s": "IRL-PBRS", "ep": 90.3, "m": 0.8, "lo": 0, "hi": 4.7},
      {"s": "IRL-PBRS", "ep": 92.9, "m": 1.1, "lo": 0, "hi": 5.7},
      {"s": "IRL-PBRS", "ep": 95.4, "m": 1.8, "lo": 0, "hi": 6.9},
      {"s": "IRL-PBRS", "ep": 96.3, "m": 1.9, "lo": 0, "hi": 6.9},
      {"s": "IRL-PBRS", "ep": 97.6, "m": 1.3, "lo": 0, "hi": 6.2},
      {"s": "IRL-PBRS", "ep": 98.3, "m": 1.0, "lo": 0, "hi": 5.9},
      {"s": "IRL-PBRS", "ep": 100.1, "m": 1.8, "lo": 0, "hi": 7.4},
      {"s": "IRL-PBRS", "ep": 101.3, "m": 2.4, "lo": 0, "hi": 8.3},
      {"s": "IRL-PBRS", "ep": 102.2, "m": 2.7, "lo": 0, "hi": 8.6},
      {"s": "IRL-PBRS", "ep": 103.6, "m": 2.3, "lo": 0, "hi": 7.8},
      {"s": "IRL-PBRS", "ep": 104.7, "m": 1.2, "lo": 0, "hi": 6.3},
      {"s": "IRL-PBRS", "ep": 105.6, "m": 1.0, "lo": 0, "hi": 5.7},
      {"s": "IRL-PBRS", "ep": 106.4, "m": 1.2, "lo": 0, "hi": 5.7},
      {"s": "IRL-PBRS", "ep": 107.8, "m": 1.5, "lo": 0, "hi": 6.2},
      {"s": "IRL-PBRS", "ep": 109.5, "m": 1.9, "lo": 0, "hi": 6.8},
      {"s": "IRL-PBRS", "ep": 110.4, "m": 1.8, "lo": 0, "hi": 6.5},
      {"s": "IRL-PBRS", "ep": 111.7, "m": 1.2, "lo": 0, "hi": 5.7},
      {"s": "IRL-PBRS", "ep": 112.6, "m": 1.0, "lo": 0, "hi": 5.5},
      {"s": "IRL-PBRS", "ep": 113.7, "m": 1.2, "lo": 0, "hi": 5.9},
      {"s": "IRL-PBRS", "ep": 115.3, "m": 1.7, "lo": 0, "hi": 6.7},
      {"s": "IRL-PBRS", "ep": 116.4, "m": 1.7, "lo": 0, "hi": 6.8},
      {"s": "IRL-PBRS", "ep": 117.5, "m": 1.3, "lo": 0, "hi": 6.7},
      {"s": "IRL-PBRS", "ep": 118.5, "m": 1.5, "lo": 0, "hi": 7.1},
      {"s": "IRL-PBRS", "ep": 119.3, "m": 2.1, "lo": 0, "hi": 8.1},
      {"s": "IRL-PBRS", "ep": 120.3, "m": 2.7, "lo": 0, "hi": 8.8},
      {"s": "IRL-PBRS", "ep": 121.3, "m": 2.9, "lo": 0, "hi": 8.7},
      {"s": "IRL-PBRS", "ep": 122.4, "m": 1.9, "lo": 0, "hi": 7.4},
      {"s": "IRL-PBRS", "ep": 123.3, "m": 1.0, "lo": 0, "hi": 5.5},
      {"s": "IRL-PBRS", "ep": 123.8, "m": 0.8, "lo": 0, "hi": 5.1},
      {"s": "IRL-PBRS", "ep": 124.6, "m": 0.5, "lo": 0, "hi": 3.8},
      {"s": "IRL-PBRS", "ep": 125.9, "m": 0.8, "lo": 0, "hi": 4.1},
      {"s": "IRL-PBRS", "ep": 127.3, "m": 1.0, "lo": 0, "hi": 4.9},
      {"s": "IRL-PBRS", "ep": 129.0, "m": 1.1, "lo": 0, "hi": 5.2},
      {"s": "IRL-PBRS", "ep": 130.4, "m": 1.1, "lo": 0, "hi": 5.4},
      {"s": "IRL-PBRS", "ep": 132.1, "m": 0.9, "lo": 0, "hi": 4.9},
      {"s": "IRL-PBRS", "ep": 133.6, "m": 1.2, "lo": 0, "hi": 5.0},
      {"s": "IRL-PBRS", "ep": 134.5, "m": 1.0, "lo": 0, "hi": 4.9},
      {"s": "IRL-PBRS", "ep": 135.2, "m": 0.8, "lo": 0, "hi": 4.1},
      {"s": "IRL-PBRS", "ep": 136.7, "m": 0.4, "lo": 0, "hi": 3.2},
      {"s": "IRL-PBRS", "ep": 138.7, "m": 0.6, "lo": 0, "hi": 3.7},
      {"s": "IRL-PBRS", "ep": 141.8, "m": 0.6, "lo": 0, "hi": 3.8},
      {"s": "IRL-PBRS", "ep": 144.4, "m": 1.6, "lo": 0, "hi": 6.1},
      {"s": "IRL-PBRS", "ep": 145.3, "m": 1.5, "lo": 0, "hi": 6.3},
      {"s": "IRL-PBRS", "ep": 146.6, "m": 1.3, "lo": 0, "hi": 5.9},
      {"s": "IRL-PBRS", "ep": 148.4, "m": 1.1, "lo": 0, "hi": 5.1},
      {"s": "IRL-PBRS", "ep": 150.1, "m": 1.1, "lo": 0, "hi": 5.5},
      {"s": "IRL-PBRS", "ep": 151.5, "m": 1.2, "lo": 0, "hi": 5.7},
      {"s": "IRL-PBRS", "ep": 153.2, "m": 1.2, "lo": 0, "hi": 6.0},
      {"s": "IRL-PBRS", "ep": 155.4, "m": 1.5, "lo": 0, "hi": 6.4},
      {"s": "IRL-PBRS", "ep": 156.5, "m": 1.3, "lo": 0, "hi": 6.1},
      {"s": "IRL-PBRS", "ep": 158.3, "m": 0.8, "lo": 0, "hi": 4.9},
      {"s": "IRL-PBRS", "ep": 160.2, "m": 1.7, "lo": 0, "hi": 6.5},
      {"s": "IRL-PBRS", "ep": 161.3, "m": 1.8, "lo": 0, "hi": 6.7},
      {"s": "IRL-PBRS", "ep": 162.7, "m": 1.8, "lo": 0, "hi": 6.6},
      {"s": "IRL-PBRS", "ep": 163.8, "m": 1.3, "lo": 0, "hi": 5.9},
      {"s": "IRL-PBRS", "ep": 164.9, "m": 0.9, "lo": 0, "hi": 4.5},
      {"s": "IRL-PBRS", "ep": 166.4, "m": 0.5, "lo": 0, "hi": 3.5},
      {"s": "IRL-PBRS", "ep": 167.8, "m": 0.7, "lo": 0, "hi": 3.7},
      {"s": "IRL-PBRS", "ep": 170.0, "m": 1.0, "lo": 0, "hi": 4.9},
      {"s": "IRL-PBRS", "ep": 171.1, "m": 1.3, "lo": 0, "hi": 5.9},
      {"s": "IRL-PBRS", "ep": 172.6, "m": 1.8, "lo": 0, "hi": 7.1},
      {"s": "IRL-PBRS", "ep": 173.5, "m": 2.0, "lo": 0, "hi": 7.3},
      {"s": "IRL-PBRS", "ep": 174.8, "m": 1.9, "lo": 0, "hi": 7.2},
      {"s": "IRL-PBRS", "ep": 176.6, "m": 1.2, "lo": 0, "hi": 7.0},
      {"s": "IRL-PBRS", "ep": 178.4, "m": 1.5, "lo": 0, "hi": 7.3},
      {"s": "IRL-PBRS", "ep": 179.6, "m": 1.7, "lo": 0, "hi": 7.4},
      {"s": "IRL-PBRS", "ep": 181.4, "m": 1.4, "lo": 0, "hi": 7.0},
      {"s": "IRL-PBRS", "ep": 183.6, "m": 1.7, "lo": 0, "hi": 6.5},
      {"s": "IRL-PBRS", "ep": 184.6, "m": 1.4, "lo": 0, "hi": 5.9},
      {"s": "IRL-PBRS", "ep": 185.9, "m": 0.9, "lo": 0, "hi": 4.7},
      {"s": "IRL-PBRS", "ep": 186.9, "m": 0.7, "lo": 0, "hi": 4.2},
      {"s": "IRL-PBRS", "ep": 189.4, "m": 1.2, "lo": 0, "hi": 5.2},
      {"s": "IRL-PBRS", "ep": 191.2, "m": 1.2, "lo": 0, "hi": 5.4},
      {"s": "IRL-PBRS", "ep": 192.4, "m": 1.2, "lo": 0, "hi": 5.2},
      {"s": "IRL-PBRS", "ep": 193.6, "m": 1.0, "lo": 0, "hi": 5.1},
      {"s": "IRL-PBRS", "ep": 194.6, "m": 0.9, "lo": 0, "hi": 5.6},
      {"s": "IRL-PBRS", "ep": 196.5, "m": 1.2, "lo": 0, "hi": 6.2},
      {"s": "IRL-PBRS", "ep": 198.1, "m": 1.5, "lo": 0, "hi": 6.6},
      {"s": "IRL-PBRS", "ep": 199.7, "m": 1.2, "lo": 0, "hi": 6.7}
    ]
  },
  "layer": [
    {
      "mark": {"type": "area", "fillOpacity": 0.2, "clip": true},
      "encoding": {
        "x": {
          "field": "ep",
          "type": "quantitative",
          "scale": {"domain": [0, 200], "nice": false, "zero": false},
          "axis": {
            "orient": "bottom",
            "values": [0, 50, 100, 150, 200],
            "title": "Episode",
            "labelPadding": 18,
            "labelFlush": false,
            "labelOverlap": false,
            "titleY": 183,
            "titleBaseline": "alphabetic"
          }
        },
        "y": {
          "field": "hi",
          "type": "quantitative",
          "scale": {"domain": [0, 70], "nice": false, "zero": false},
          "axis": {
            "orient": "left",
            "values": [0, 10, 20, 30, 40, 50, 60, 70],
            "title": "Number of constraint violations",
            "labelPadding": 25,
            "labelOverlap": false,
            "titleX": -165,
            "titleAngle": -90,
            "titleAlign": "center",
            "titleBaseline": "alphabetic"
          }
        },
        "y2": {"field": "lo"},
        "fill": {
          "field": "s",
          "type": "nominal",
          "scale": {"domain": ["IRL-PBRS", "IRL-FBWS", "IRL-FB"], "range": ["#0000ff", "#ff0000", "#008000"]},
          "legend": null
        }
      }
    },
    {
      "mark": {"type": "line", "strokeWidth": 10, "strokeCap": "butt", "strokeJoin": "round", "clip": true},
      "encoding": {
        "x": {
          "field": "ep",
          "type": "quantitative",
          "axis": {"orient": "top", "values": [0, 50, 100, 150, 200], "labels": false, "title": null}
        },
        "y": {
          "field": "m",
          "type": "quantitative",
          "axis": {"orient": "right", "values": [0, 10, 20, 30, 40, 50, 60, 70], "labels": false, "title": null}
        },
        "stroke": {
          "field": "s",
          "type": "nominal",
          "title": "series",
          "scale": {"domain": ["IRL-FB", "IRL-FBWS", "IRL-PBRS"], "range": ["#008000", "#ff0000", "#0000ff"]},
          "legend": {
            "title": null,
            "orient": "none",
            "legendX": 1363,
            "legendY": 44,
            "encode": {"legend": {"update": {"strokeWidth": {"value": 5}}}}
          }
        },
        "strokeDash": {
          "field": "s",
          "type": "nominal",
          "title": "series",
          "scale": {"domain": ["IRL-FB", "IRL-FBWS", "IRL-PBRS"], "range": [[5.5, 15.3], [30, 29], [1, 0]]},
          "legend": {
            "title": null,
            "orient": "none",
            "legendX": 1363,
            "legendY": 44,
            "encode": {"legend": {"update": {"strokeWidth": {"value": 5}}}}
          }
        }
      }
    }
  ],
  "resolve": {"axis": {"x": "independent", "y": "independent"}}
}
